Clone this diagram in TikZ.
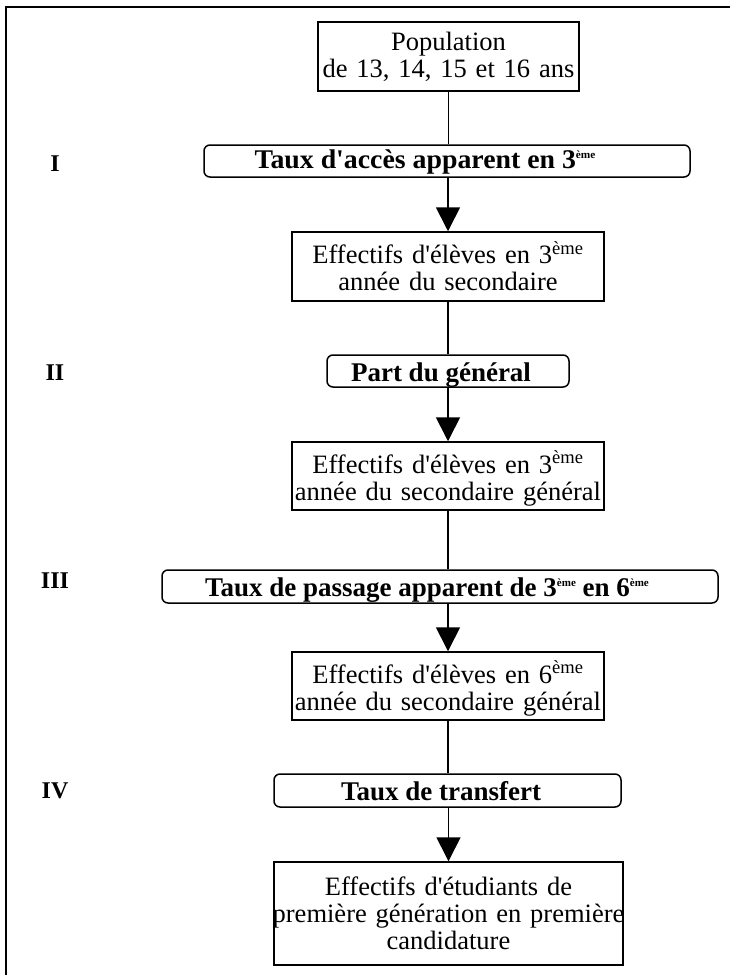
\documentclass[tikz,border=0pt]{standalone}
\usepackage{fontspec}
\setmainfont{Liberation Serif}[Ligatures=TeXOff]
\usetikzlibrary{arrows.meta}
\newcommand\bsup[1]{\raisebox{10pt}{\fontsize{11}{11}\selectfont #1}}
\begin{document}
\begin{tikzpicture}[x=1pt,y=1pt,
  box/.style={draw, line width=1.5pt, inner sep=0pt, align=center,
    font=\fontsize{26.5}{27}\selectfont, text height=21pt, text depth=27pt},
  rbox/.style={draw, line width=1.5pt, rounded corners=6pt, inner sep=0pt,
    font=\fontsize{27}{27}\selectfont\bfseries, text height=20pt, text depth=0pt},
  lab/.style={font=\fontsize{24}{24}\selectfont\bfseries, anchor=base, inner sep=0pt},
  conn/.style={line width=1.7pt},
  arr/.style={line width=1.7pt, -{Triangle[width=24pt,length=24pt]}},
  frame/.style={line width=2pt}
]
\useasboundingbox (0,0) rectangle (730,-975);
\fill[white] (0,0) rectangle (730,-975);
\draw[frame] (6,-975) -- (6,-7) -- (730,-7);

% boxes
\node[box, text width=261pt, minimum height=69pt, text height=14pt] (b1) at (448.5,-56.5)
  {Population\\de 13, 14, 15 et 16 ans};
\node[rbox, minimum width=486pt, minimum height=32pt, text height=14pt] (rI) at (447,-161)
  {\addfontfeature{FakeStretch=1.03}Taux d'accès apparent en 3\bsup{ème}\hspace*{44pt}};
\node[box, text width=312pt, minimum height=69pt] (b2) at (448,-266.5)
  {Effectifs d'élèves en 3\textsuperscript{ème}\\année du secondaire};
\node[rbox, minimum width=242pt, minimum height=32pt] (rII) at (448,-371)
  {Part du général\hspace*{14pt}};
\node[box, text width=312pt, minimum height=68pt] (b3) at (448,-476)
  {Effectifs d'élèves en 3\textsuperscript{ème}\\\makebox[\hsize][c]{année du secondaire général}};
\node[rbox, minimum width=556pt, minimum height=33pt] (rIII) at (440,-586.5)
  {Taux de passage apparent de 3\bsup{ème} en 6\bsup{ème}\hspace*{26pt}};
\node[box, text width=312pt, minimum height=68pt] (b4) at (448,-686)
  {Effectifs d'élèves en 6\textsuperscript{ème}\\\makebox[\hsize][c]{année du secondaire général}};
\node[rbox, minimum width=347pt, minimum height=33pt] (rIV) at (447.5,-790.5)
  {Taux de transfert\hspace*{13pt}};
\node[box, text width=349pt, minimum height=103pt, text height=17pt, text depth=54pt] (b5) at (448.5,-913.5)
  {Effectifs d'étudiants de\\\makebox[\hsize][c]{première génération en première}\\candidature};

% labels
\node[lab] (lI) at (55,-171) {I};
\node[lab] (lII) at (55,-380) {II};
\node[lab] (lIII) at (55,-588) {III};
\node[lab] (lIV) at (55,-798) {IV};

% connectors
\draw[conn] (b1.south) -- (b1.south |- rI.north);
\draw[arr] (rI.south -| b2.north) -- (b2.north);
\draw[conn] (b2.south) -- (b2.south |- rII.north);
\draw[arr] (rII.south -| b3.north) -- (b3.north);
\draw[conn] (b3.south) -- (b3.south |- rIII.north);
\draw[arr] (rIII.south -| b4.north) -- (b4.north);
\draw[conn] (b4.south) -- (b4.south |- rIV.north);
\draw[arr] (rIV.south -| b5.north) -- (b5.north);
\end{tikzpicture}
\end{document}
